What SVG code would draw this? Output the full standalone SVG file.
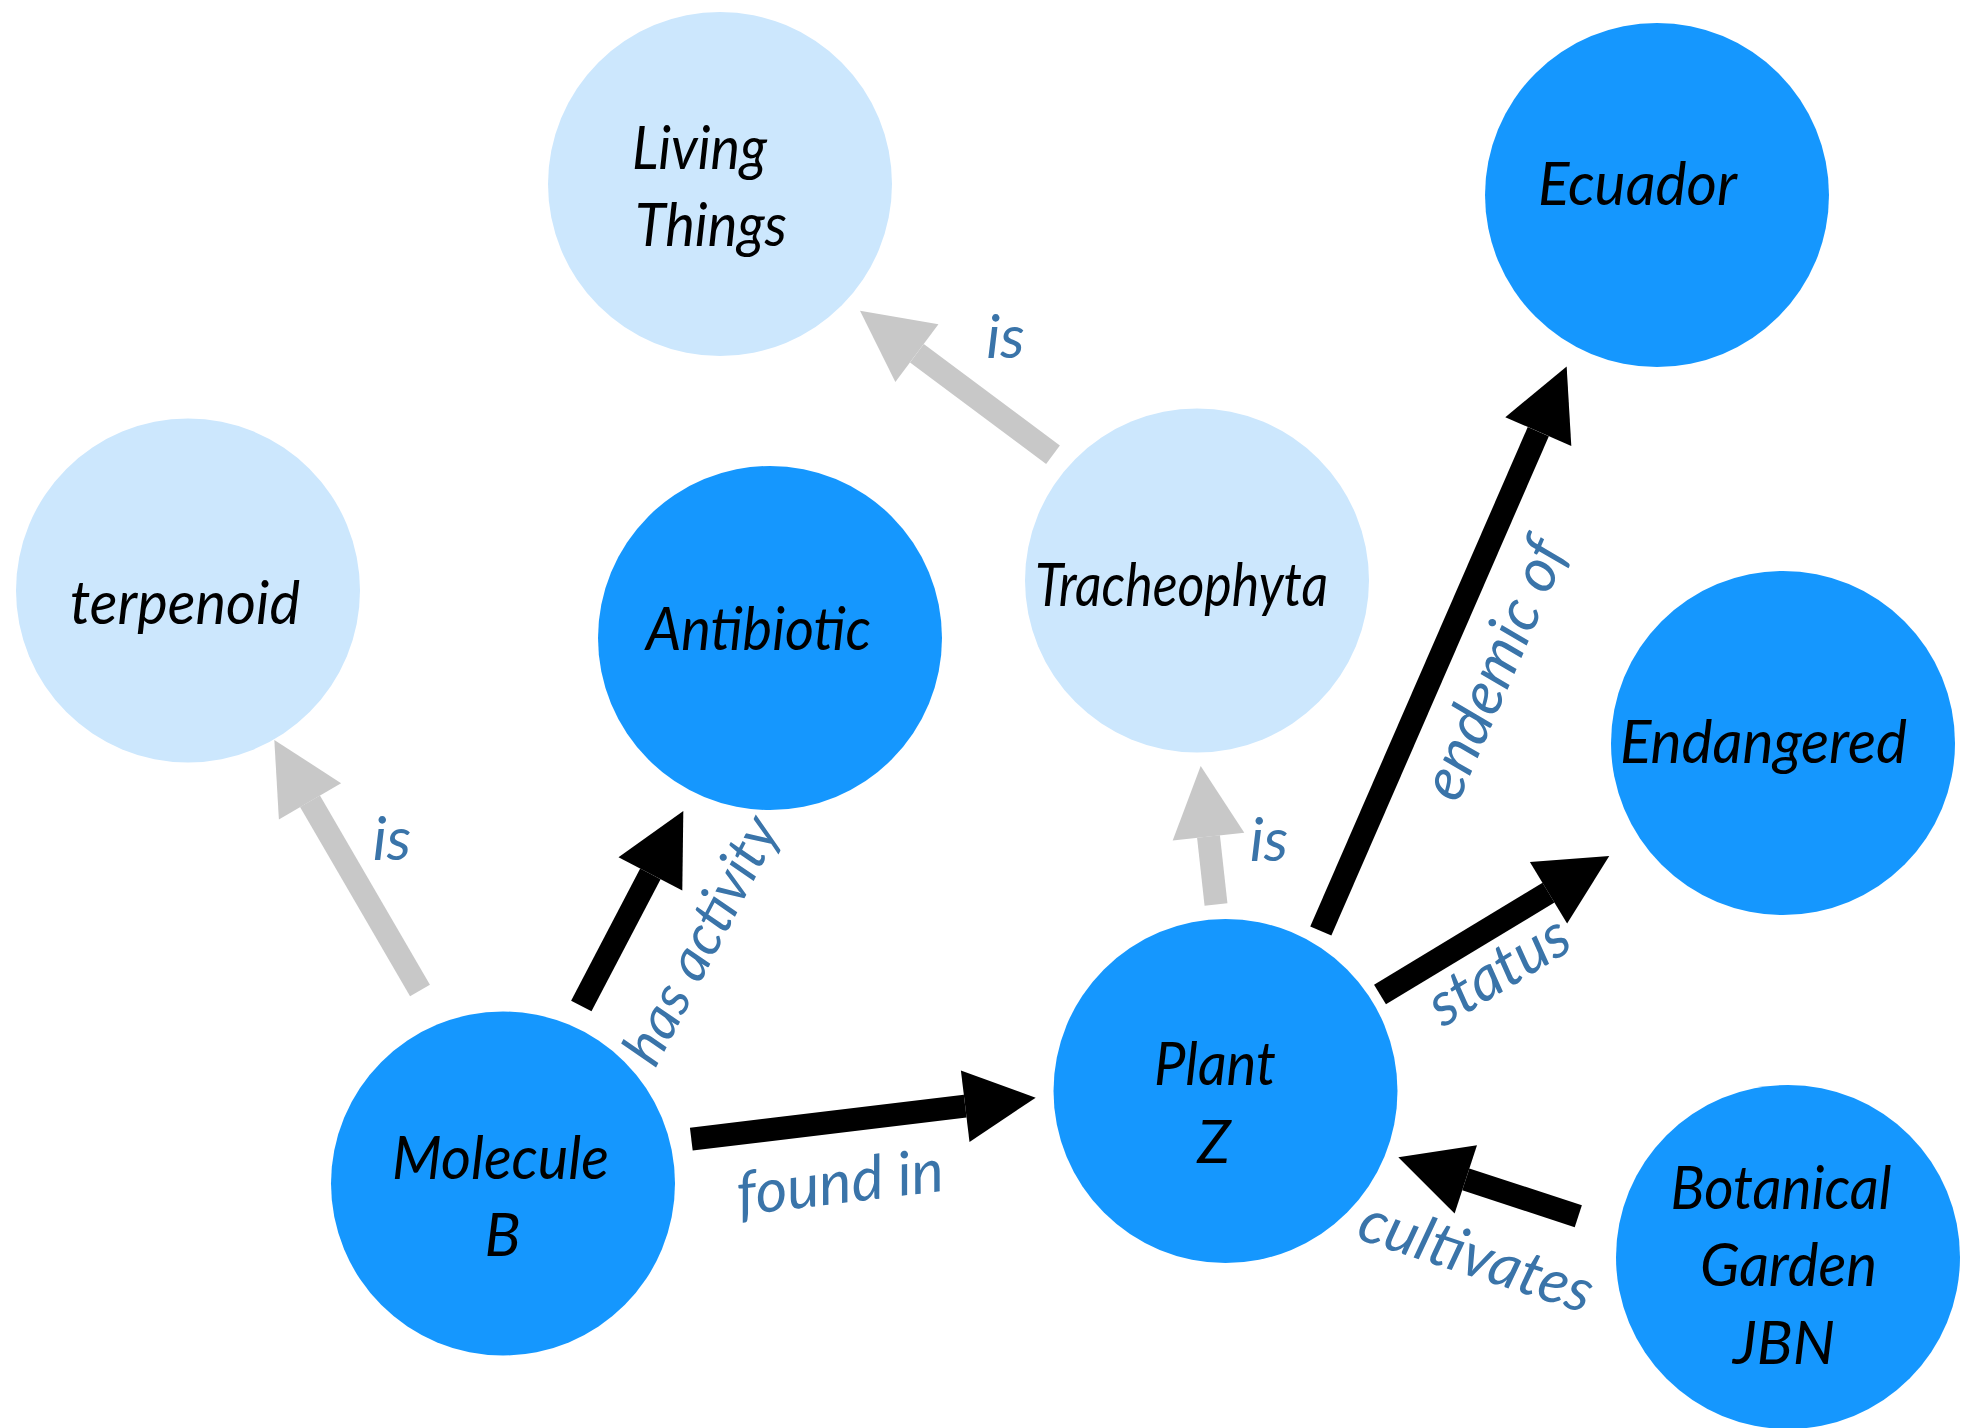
<svg xmlns="http://www.w3.org/2000/svg" width="1962" height="1428" viewBox="0 0 1962 1428">
<style>
.dark{fill:#1597FE}
.light{fill:#CCE7FD}
.nt{font-family:Lato,"Liberation Sans",sans-serif;font-style:italic;font-size:60px;fill:#000;text-anchor:middle}
.lb{font-family:Lato,"Open Sans","Liberation Sans",sans-serif;font-style:italic;font-size:61px;fill:#3A74A9;text-anchor:middle}
.cb{stroke:#000;stroke-width:23;fill:none}
.cg{stroke:#C8C8C8;stroke-width:23;fill:none}
</style>
<defs>
<marker id="hb" markerUnits="userSpaceOnUse" markerWidth="72" markerHeight="74" refX="0" refY="36" orient="auto" viewBox="0 0 72 72" overflow="visible"><path d="M0,0 L71,36 L0,72 z" fill="#000"/></marker>
<marker id="hg" markerUnits="userSpaceOnUse" markerWidth="72" markerHeight="74" refX="0" refY="36" orient="auto" viewBox="0 0 72 72" overflow="visible"><path d="M0,0 L71,36 L0,72 z" fill="#C8C8C8"/></marker>
</defs>
<rect width="1962" height="1428" fill="#fff"/>
<g id="living-things"><circle class="light" cx="720" cy="184" r="172"/><text class="nt" x="699.5" y="168.5" textLength="135" lengthAdjust="spacingAndGlyphs">Living</text><text class="nt" x="711" y="246" textLength="152" lengthAdjust="spacingAndGlyphs">Things</text></g>
<g id="ecuador"><circle class="dark" cx="1657" cy="195" r="172"/><text class="nt" x="1637.5" y="205" textLength="199" lengthAdjust="spacingAndGlyphs">Ecuador</text></g>
<g id="terpenoid"><circle class="light" cx="188" cy="590.5" r="172"/><text class="nt" x="185" y="624" textLength="230" lengthAdjust="spacingAndGlyphs">terpenoid</text></g>
<g id="antibiotic"><circle class="dark" cx="770" cy="638" r="172"/><text class="nt" x="758.5" y="650" textLength="225" lengthAdjust="spacingAndGlyphs">Antibiotic</text></g>
<g id="tracheophyta"><circle class="light" cx="1197" cy="580.5" r="172"/><text class="nt" x="1181.5" y="605.5" textLength="293" lengthAdjust="spacingAndGlyphs">Tracheophyta</text></g>
<g id="endangered"><circle class="dark" cx="1783" cy="743" r="172"/><text class="nt" x="1763.5" y="763" textLength="287" lengthAdjust="spacingAndGlyphs">Endangered</text></g>
<g id="molecule-b"><circle class="dark" cx="503" cy="1183.5" r="172"/><text class="nt" x="500.5" y="1179" textLength="217" lengthAdjust="spacingAndGlyphs">Molecule</text><text class="nt" x="502.5" y="1256">B</text></g>
<g id="plant-z"><circle class="dark" cx="1225.5" cy="1091" r="172"/><text class="nt" x="1215" y="1085" textLength="122" lengthAdjust="spacingAndGlyphs">Plant</text><text class="nt" x="1214" y="1162.5">Z</text></g>
<g id="botanical-garden-jbn"><circle class="dark" cx="1788" cy="1257" r="172"/><text class="nt" x="1781" y="1209" textLength="221" lengthAdjust="spacingAndGlyphs">Botanical</text><text class="nt" x="1788.5" y="1286" textLength="177" lengthAdjust="spacingAndGlyphs">Garden</text><text class="nt" x="1784" y="1364" textLength="102" lengthAdjust="spacingAndGlyphs">JBN</text></g>
<g id="connectors">
<line class="cg" x1="420" y1="990.5" x2="310" y2="801.3" marker-end="url(#hg)"/>
<line class="cb" x1="581.3" y1="1006" x2="650.4" y2="873.9" marker-end="url(#hb)"/>
<line class="cb" x1="691.3" y1="1139.2" x2="965.2" y2="1106.2" marker-end="url(#hb)"/>
<line class="cg" x1="1216" y1="904.5" x2="1208.5" y2="836.6" marker-end="url(#hg)"/>
<line class="cb" x1="1320.8" y1="931" x2="1538.3" y2="431.6" marker-end="url(#hb)"/>
<line class="cb" x1="1380" y1="994.5" x2="1548.5" y2="892.7" marker-end="url(#hb)"/>
<line class="cb" x1="1578.3" y1="1216.2" x2="1465.8" y2="1179.4" marker-end="url(#hb)"/>
<line class="cg" x1="1053" y1="454.8" x2="916.9" y2="353.2" marker-end="url(#hg)"/>
<text class="lb" x="392" y="860">is</text>
<text class="lb" x="1269" y="860.7">is</text>
<text class="lb" x="1005.5" y="358">is</text>
<text class="lb" transform="translate(842.5,1203) rotate(-6.9)">found in</text>
<text class="lb" style="font-size:57px" transform="translate(718,949) rotate(-62.4)">has activity</text>
<text class="lb" transform="translate(1513,677) rotate(-66.5)">endemic of</text>
<text class="lb" transform="translate(1509,988) rotate(-31.1)">status</text>
<text class="lb" transform="translate(1470,1276) rotate(18.1)">cultivates</text>
</g>
</svg>
